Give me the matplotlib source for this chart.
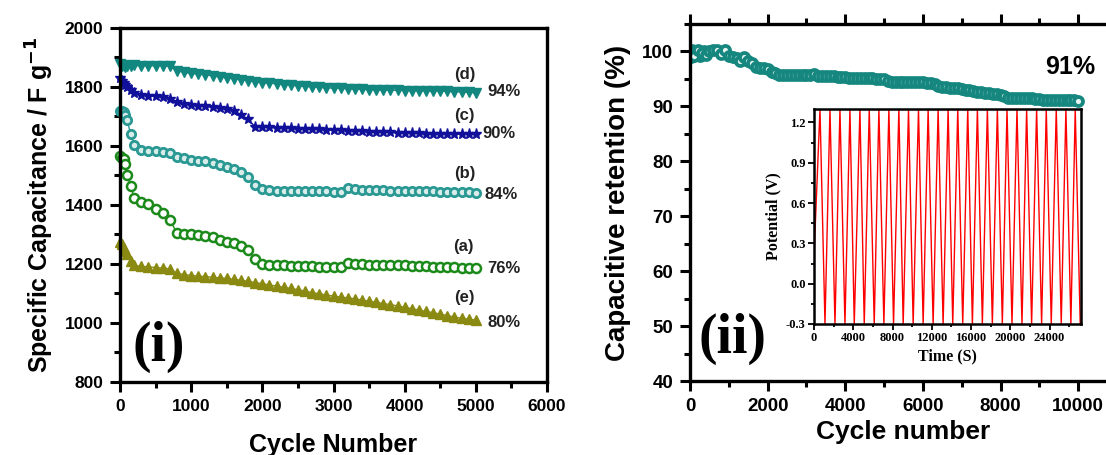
import matplotlib
matplotlib.use("Agg")
import matplotlib.pyplot as plt
import numpy as np
from matplotlib.ticker import MultipleLocator, FormatStrFormatter

plt.rcParams["font.family"] = ["Liberation Sans", "DejaVu Sans"]
plt.rcParams["axes.unicode_minus"] = False

# ---------------- Panel (i): specific capacitance vs cycle number ----------------
cycles_i = [0, 25, 50, 75, 100, 150, 200] + list(range(300, 5001, 100))

cap_d = [1878, 1872, 1875, 1868, 1872, 1870, 1873,
         1872, 1872, 1872, 1872, 1870, 1855, 1850, 1846, 1844, 1841,
         1838, 1834, 1831, 1828, 1825, 1821, 1818, 1815, 1813, 1811,
         1808, 1806, 1804, 1802, 1800, 1799, 1797, 1796, 1795, 1794,
         1793, 1792, 1791, 1790, 1790, 1789, 1789, 1788, 1788, 1787,
         1787, 1786, 1786, 1785, 1784, 1783, 1782, 1780]
cap_c = [1830, 1822, 1815, 1808, 1800, 1790, 1778,
         1772, 1770, 1768, 1766, 1760, 1748, 1744, 1740, 1737, 1734,
         1731, 1728, 1724, 1720, 1706, 1690, 1665, 1664, 1663, 1662,
         1661, 1660, 1659, 1658, 1657, 1656, 1655, 1654, 1653, 1652,
         1651, 1650, 1649, 1648, 1647, 1646, 1645, 1644, 1643, 1643,
         1642, 1642, 1641, 1641, 1640, 1640, 1640, 1639]
cap_b = [1718, 1720, 1715, 1705, 1688, 1640, 1605,
         1587, 1584, 1582, 1580, 1576, 1564, 1558, 1553, 1550, 1548,
         1542, 1535, 1530, 1522, 1512, 1494, 1468, 1455, 1450, 1449,
         1448, 1448, 1447, 1447, 1446, 1446, 1446, 1445, 1443, 1458,
         1454, 1452, 1451, 1450, 1450, 1449, 1448, 1448, 1447, 1447,
         1446, 1446, 1445, 1445, 1444, 1444, 1443, 1442]
cap_a = [1565, 1560, 1555, 1540, 1500, 1465, 1425,
         1410, 1402, 1388, 1372, 1350, 1305, 1303, 1301, 1298, 1295,
         1290, 1282, 1276, 1272, 1262, 1246, 1218, 1200, 1197, 1196,
         1195, 1194, 1193, 1192, 1192, 1191, 1191, 1190, 1190, 1205,
         1200, 1199, 1198, 1197, 1196, 1196, 1195, 1195, 1194, 1193,
         1192, 1191, 1190, 1190, 1189, 1188, 1188, 1187]
cap_e = [1275, 1268, 1255, 1245, 1235, 1210, 1195,
         1192, 1190, 1188, 1186, 1184, 1168, 1164, 1161, 1159, 1157,
         1155, 1153, 1151, 1148, 1145, 1141, 1137, 1133, 1129, 1125,
         1121, 1117, 1113, 1108, 1103, 1099, 1095, 1091, 1088, 1085,
         1082, 1078, 1074, 1070, 1066, 1062, 1058, 1053, 1048, 1044,
         1039, 1035, 1030, 1025, 1020, 1016, 1013, 1010]

series_tags = ["(d)", "(c)", "(b)", "(a)", "(e)"]
retention_tags = ["94%", "90%", "84%", "76%", "80%"]

# ---------------- Panel (ii): capacitive retention ----------------
cycles_ii = list(range(0, 10001, 100))
retention = [100.0, 99.2, 100.2, 99.8, 99.3, 100.0, 100.2, 100.3, 99.5, 100.2,
             99.2, 99.0, 98.9, 98.2, 99.0, 98.2, 97.9, 97.2, 97.0, 97.0,
             96.8, 96.2, 96.0, 95.8, 95.8, 95.7, 95.7, 95.7, 95.7, 95.7,
             95.7, 95.7, 95.9, 95.6, 95.5, 95.6, 95.6, 95.5, 95.4, 95.3,
             95.3, 95.2, 95.2, 95.2, 95.1, 95.1, 95.1, 95.1, 95.0, 95.0,
             94.9, 94.6, 94.5, 94.5, 94.5, 94.5, 94.5, 94.5, 94.4, 94.4,
             94.4, 94.3, 94.2, 94.0, 93.8, 93.6, 93.5, 93.4, 93.4, 93.3,
             93.2, 93.0, 92.9, 92.8, 92.7, 92.6, 92.5, 92.4, 92.3, 92.2,
             92.0, 91.8, 91.6, 91.5, 91.5, 91.5, 91.5, 91.5, 91.5, 91.4,
             91.3, 91.1, 91.1, 91.1, 91.1, 91.1, 91.1, 91.1, 91.1, 91.1,
             91.0]
early_cycles = [20, 50, 80, 150, 250, 350]
early_retention = [99.0, 100.3, 99.4, 100.1, 99.2, 100.0]

# Galvanostatic charge/discharge (inset)
peak_times = [610, 1627, 2644, 3661, 4678, 5628, 6611, 7628, 8645, 9628,
              10645, 11628, 12645, 13662, 14645, 15662, 16645, 17662, 18679,
              19662, 20679, 21662, 22679, 23662, 24679, 25662, 26611]
trough_times = [1119, 2136, 3153, 4102, 5119, 6136, 7119, 8102, 9085, 10102,
                11119, 12136, 13153, 14136, 15153, 16136, 17153, 18170, 19187,
                20170, 21187, 22170, 23187, 24170, 25187, 26170, 27120]
start_potential = 0.2
peak_potential = 1.3
trough_potential = -0.3

BOLD = "bold"

fig = plt.figure(figsize=(11.06, 4.55), dpi=100)

# ---------- left panel ----------
ax1 = fig.add_axes([120 / 1106, 73 / 455, 427 / 1106, 354 / 455])
styles = [
    dict(color="#12877f", marker="v", ms=6.5, mfc="#12877f", mec="#12877f"),
    dict(color="#10109a", marker="*", ms=8, mfc="#10109a", mec="#10109a"),
    dict(color="#2a9893", marker="o", ms=6, mfc="#d8ecea", mec="#2a9893", mew=2.0),
    dict(color="#1b8a1b", marker="o", ms=6.5, mfc="white", mec="#1b8a1b", mew=1.8),
    dict(color="#8a8a12", marker="^", ms=6.5, mfc="#8a8a12", mec="#8a8a12"),
]
for vals, st in zip([cap_d, cap_c, cap_b, cap_a, cap_e], styles):
    ax1.plot(cycles_i, vals, lw=1.0, clip_on=False, **st)

ax1.set_xlim(0, 6000)
ax1.set_ylim(800, 2000)
ax1.xaxis.set_major_locator(MultipleLocator(1000))
ax1.xaxis.set_minor_locator(MultipleLocator(500))
ax1.yaxis.set_major_locator(MultipleLocator(200))
ax1.yaxis.set_minor_locator(MultipleLocator(100))
ax1.tick_params(which="both", direction="out", top=False, right=False, width=2.2)
ax1.tick_params(which="major", length=7, labelsize=12.5, pad=5)
ax1.tick_params(which="minor", length=4.5)
for lab in ax1.get_xticklabels() + ax1.get_yticklabels():
    lab.set_fontweight(BOLD)
for sp in ax1.spines.values():
    sp.set_linewidth(2.4)
ax1.set_xlabel("Cycle Number", fontsize=18, fontweight=BOLD, labelpad=14)
ax1.set_ylabel("Specific Capacitance / F g$^{\\mathbf{-1}}$", fontsize=18,
               fontweight=BOLD, labelpad=6)

tag_pos = [(4850, 1841), (4840, 1705), (4850, 1508), (4820, 1258), (4840, 1085)]
pct_pos = [(5400, 1786), (5330, 1641), (5360, 1434), (5400, 1186), (5400, 1003)]
for t, (x, y) in zip(series_tags, tag_pos):
    ax1.text(x, y, t, fontsize=12, fontweight=BOLD, color="#222222",
             ha="center", va="center")
for t, (x, y) in zip(retention_tags, pct_pos):
    ax1.text(x, y, t, fontsize=12, fontweight=BOLD, color="#222222",
             ha="center", va="center")
ax1.text(0.09, 0.1, "(i)", transform=ax1.transAxes, fontsize=40,
         fontweight=BOLD, family="Liberation Serif", ha="center", va="center")

# ---------- right panel ----------
ax2 = fig.add_axes([690 / 1106, 74 / 455, 427 / 1106, 357 / 455])
teal = "#15877f"
ax2.plot(early_cycles, early_retention, ls="none", marker="o", ms=6.5,
         mfc="#e8f4f2", mec=teal, mew=2.7)
ax2.plot(cycles_ii, retention, ls="none", marker="o", ms=6.5,
         mfc="#e8f4f2", mec=teal, mew=2.7)
ax2.set_xlim(0, 11000)
ax2.set_ylim(40, 105)
ax2.xaxis.set_major_locator(MultipleLocator(2000))
ax2.xaxis.set_minor_locator(MultipleLocator(1000))
ax2.yaxis.set_major_locator(MultipleLocator(10))
ax2.yaxis.set_minor_locator(MultipleLocator(5))
ax2.tick_params(which="both", direction="out", top=True, right=False,
                labeltop=False, width=2.2)
ax2.tick_params(which="major", length=7, labelsize=13.5, pad=5)
ax2.tick_params(which="minor", length=4.5)
for lab in ax2.get_xticklabels() + ax2.get_yticklabels():
    lab.set_fontweight(BOLD)
for sp in ax2.spines.values():
    sp.set_linewidth(2.4)
ax2.set_xlabel("Cycle number", fontsize=19, fontweight=BOLD, labelpad=4)
ax2.set_ylabel("Capacitive retention (%)", fontsize=20, fontweight=BOLD,
               labelpad=8)
ax2.text(9794, 97.1, "91%", fontsize=18, fontweight=BOLD, ha="center",
         va="center")
ax2.text(0.1, 0.117, "(ii)", transform=ax2.transAxes, fontsize=40,
         fontweight=BOLD, family="Liberation Serif", ha="center", va="center")

# ---------- inset: charge / discharge curves ----------
ax3 = fig.add_axes([814 / 1106, 131 / 455, 267 / 1106, 215 / 455])
t_curve = [0]
v_curve = [start_potential]
for tp, tt in zip(peak_times, trough_times):
    t_curve += [tp, tt]
    v_curve += [peak_potential, trough_potential]
ax3.plot(t_curve, v_curve, color="#ff0000", lw=1.0)
ax3.set_xlim(0, 27200)
ax3.set_ylim(-0.3, 1.3)
ax3.xaxis.set_major_locator(MultipleLocator(4000))
ax3.xaxis.set_minor_locator(MultipleLocator(2000))
ax3.yaxis.set_major_locator(MultipleLocator(0.3))
ax3.yaxis.set_minor_locator(MultipleLocator(0.15))
ax3.yaxis.set_major_formatter(FormatStrFormatter("%.1f"))
ax3.tick_params(which="both", direction="out", top=False, right=False, width=1.3)
ax3.tick_params(which="major", length=4, labelsize=9, pad=2)
ax3.tick_params(which="minor", length=2.5)
for lab in ax3.get_xticklabels() + ax3.get_yticklabels():
    lab.set_fontweight(BOLD)
    lab.set_family("Liberation Serif")
for sp in ax3.spines.values():
    sp.set_linewidth(1.8)
ax3.set_xlabel("Time (S)", fontsize=11.5, fontweight=BOLD,
               family="Liberation Serif", labelpad=3)
ax3.set_ylabel("Potential (V)", fontsize=11.5, fontweight=BOLD,
               family="Liberation Serif", labelpad=3)

fig.savefig("out.png", dpi=100)
